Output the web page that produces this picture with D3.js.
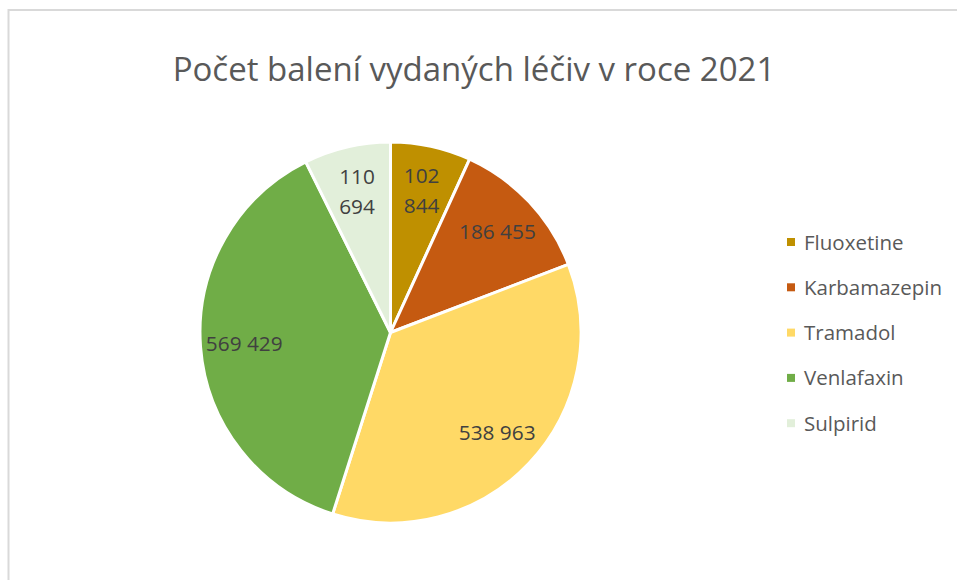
<!DOCTYPE html>
<html><head><meta charset="utf-8">
<script src="https://cdn.jsdelivr.net/npm/d3@7"></script>
<style>body{margin:0;background:#fff;} svg{display:block;}</style>
</head><body>
<svg id="c" width="957" height="580"></svg>
<script>
const categories = ["Fluoxetine","Karbamazepin","Tramadol","Venlafaxin","Sulpirid"];
const values = [102844,186455,538963,569429,110694];
const colors = ["#BF9000","#C55A11","#FFD966","#70AD47","#E2EFDA"];
const title = "Počet balení vydaných léčiv v roce 2021";

const svg = d3.select("#c");
const FONT = "'Open Sans', sans-serif";

// frame
svg.append("rect").attr("x",8.5).attr("y",10).attr("width",1000).attr("height",700)
  .attr("fill","none").attr("stroke","#d9d9d9").attr("stroke-width",2);

svg.append("text").attr("x",474).attr("y",81).attr("text-anchor","middle")
  .attr("font-family",FONT).attr("font-size",33).attr("fill","#595959").text(title);

const cx=390.5, cy=332.5, R=190.5;
const g = svg.append("g").attr("transform",`translate(${cx},${cy})`);
const data = categories.map((c,i)=>({c, v:values[i], col:colors[i]}));
const pie = d3.pie().value(d=>d.v).sort(null);
const arc = d3.arc().innerRadius(0).outerRadius(R);
const labelArc = d3.arc().innerRadius(R*0.77).outerRadius(R*0.77);
const arcs = pie(data);
g.selectAll("path").data(arcs).join("path").attr("d",arc)
  .attr("fill",d=>d.data.col).attr("stroke","#fff").attr("stroke-width",3).attr("stroke-linejoin","round");

const fmt = v => d3.format(",")(v).replace(/,/g," ");
const lab = g.selectAll("text.lab").data(arcs).join("text").attr("class","lab")
  .attr("font-family",FONT).attr("font-size",20.8).attr("fill","#404040").attr("text-anchor","middle")
  .attr("transform",d=>`translate(${labelArc.centroid(d)})`);
lab.each(function(d){
  const t = d3.select(this);
  const s = fmt(d.data.v);
  const narrow = (d.endAngle-d.startAngle) < 0.5;
  if(narrow){
    const parts = s.split(" ");
    t.append("tspan").attr("x",0).attr("y",-6).text(parts[0]);
    t.append("tspan").attr("x",0).attr("y",24).text(parts[1]);
  } else {
    t.append("tspan").attr("x",0).attr("y",7).text(s);
  }
});

const leg = svg.append("g").attr("transform","translate(787,242)");
const li = leg.selectAll("g").data(data).join("g").attr("transform",(d,i)=>`translate(0,${i*45.3})`);
li.append("rect").attr("x",0).attr("y",-4).attr("width",8).attr("height",8).attr("fill",d=>d.col);
li.append("text").attr("x",17).attr("y",7.5).attr("font-family",FONT).attr("font-size",20.5)
  .attr("fill","#595959").text(d=>d.c);
</script>
</body></html>
